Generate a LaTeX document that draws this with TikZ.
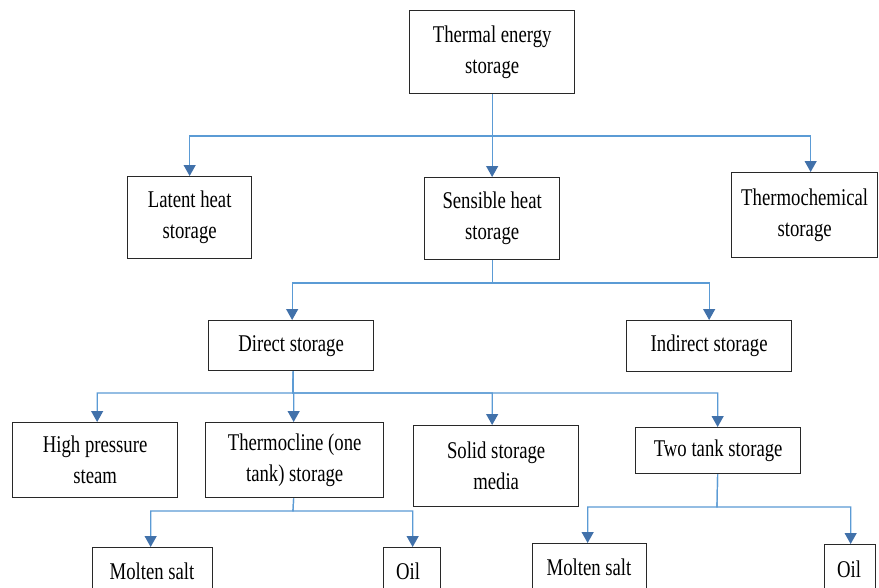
\documentclass[tikz,border=0pt]{standalone}
\usepackage{fontspec}
\setmainfont{Liberation Serif}[FakeStretch=0.78]
\usetikzlibrary{arrows.meta}
\definecolor{lineblue}{RGB}{91,155,213}
\definecolor{tipblue}{RGB}{65,113,170}
\definecolor{boxline}{RGB}{40,40,40}
\tikzset{
  box/.style={draw=boxline, line width=1.3pt, rectangle, inner sep=0pt, align=center,
    font=\fontsize{24}{31}\selectfont, anchor=north west},
  lbl/.style={inner sep=0pt, font=\fontsize{24}{31}\selectfont},
  conn/.style={draw=lineblue, line width=1.2pt},
  arr/.style={conn, -{Triangle[width=12pt,length=11pt,color=tipblue]}},
}
\begin{document}
\begin{tikzpicture}[x=1pt,y=-1pt]
\clip (0,0) rectangle (879,587);
\fill[white] (0,0) rectangle (879,587);
% level 0
\node[box, minimum width=165, minimum height=83] (tes) at (409,10) {Thermal energy\\storage};
% level 1
\node[box, minimum width=124, minimum height=82] (lat) at (127,176) {Latent heat\\storage};
\node[box, minimum width=135, minimum height=82] (sen) at (424,177) {Sensible heat\\storage};
\node[box, minimum width=146, minimum height=85] (thc) at (731,172) {Thermochemical\\storage};
% level 2
\node[box, minimum width=165, minimum height=50] (dir) at (208,320) {Direct storage};
\node[box, minimum width=165, minimum height=51] (ind) at (626,320) {Indirect storage};
% level 3
\node[box, minimum width=165, minimum height=75] (hps) at (12,422) {High pressure\\steam};
\node[box, minimum width=178, minimum height=75] (thm) at (205,422) {Thermocline (one\\tank) storage};
\node[box, minimum width=165, minimum height=81] (sol) at (413,425) {Solid storage\\media};
\node[box, minimum width=165, minimum height=46] (two) at (635,427) {Two tank storage};
% level 4 (cut off by the page edge)
\node[box, minimum width=120, minimum height=80] (ms1) at (92,547) {};
\node[lbl] (ms1t) at (152,571) {Molten salt};
\node[box, minimum width=57, minimum height=80] (oil1) at (383,547) {};
\node[lbl] (oil1t) at (408,571) {Oil};
\node[box, minimum width=114, minimum height=80] (ms2) at (532,543) {};
\node[lbl] (ms2t) at (589,567) {Molten salt};
\node[box, minimum width=51, minimum height=80] (oil2) at (824,544) {};
\node[lbl] (oil2t) at (849,569) {Oil};
% bus levels
\coordinate (b1) at (491,136);
\coordinate (b2) at (491,283);
\coordinate (b3) at (293,393);
\coordinate (b4) at (293,511);
\coordinate (b5) at (717,507);
\coordinate (thcN) at ([xshift=6pt]thc.north);
\coordinate (solN) at ([xshift=-4pt]sol.north);
% connectors
\draw[arr] (tes.south) -- (tes.south |- b1) -| (lat.north);
\draw[arr] (tes.south) -- (tes.south |- sen.north);
\draw[arr] (tes.south) -- (tes.south |- b1) -| (thcN);
\draw[arr] (sen.south) -- (sen.south |- b2) -| ([xshift=1pt]dir.north);
\draw[arr] (sen.south) -- (sen.south |- b2) -| (ind.north);
\draw[arr] ([xshift=2pt]dir.south) -- (b3) -| ([xshift=2pt]hps.north);
\draw[arr] ([xshift=2pt]dir.south) -- (b3) -| ([xshift=-1pt]thm.north);
\draw[arr] ([xshift=2pt]dir.south) -- (b3) -| (solN);
\draw[arr] ([xshift=2pt]dir.south) -- (b3) -| ([xshift=-0.5pt]two.north);
\draw[arr] ([xshift=-1pt]thm.south) -- (b4) -| ([xshift=-2pt]ms1.north);
\draw[arr] ([xshift=-1pt]thm.south) -- (b4) -| ([xshift=0.5pt]oil1.north);
\draw[arr] ([xshift=-0.5pt]two.south) -- (b5) -| ([xshift=-2pt]ms2.north);
\draw[arr] ([xshift=-0.5pt]two.south) -- (b5) -| ([xshift=0.5pt]oil2.north);
\end{tikzpicture}
\end{document}
